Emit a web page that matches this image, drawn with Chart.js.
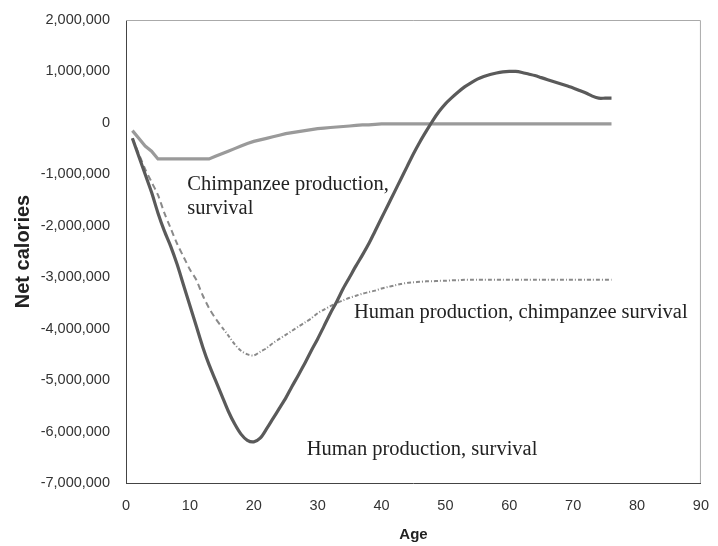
<!DOCTYPE html>
<html>
<head>
<meta charset="utf-8">
<script src="https://cdn.jsdelivr.net/npm/chart.js@4.4.1/dist/chart.umd.min.js"></script>
<style>
  html, body { margin: 0; padding: 0; background: #fff; }
  #wrap { width: 718px; height: 546px; }
</style>
</head>
<body>
<div id="wrap"><canvas id="netChart"></canvas></div>
<script>
// ages 1..76
var ages = [1,2,3,4,5,6,7,8,9,10,11,12,13,14,15,16,17,18,19,20,
  21,22,23,24,25,26,27,28,29,30,31,32,33,34,35,36,37,38,39,40,
  41,42,43,44,45,46,47,48,49,50,51,52,53,54,55,56,57,58,59,60,
  61,62,63,64,65,66,67,68,69,70,71,72,73,74,75,76];

// net calories, millions
var humanSurvival = [-0.3,-0.65,-1.0,-1.35,-1.75,-2.1,-2.4,-2.75,-3.15,-3.55,
  -3.95,-4.35,-4.7,-5.0,-5.3,-5.6,-5.85,-6.05,-6.17,-6.2,
  -6.13,-5.95,-5.75,-5.55,-5.35,-5.12,-4.9,-4.67,-4.43,-4.2,
  -3.95,-3.7,-3.47,-3.22,-3.0,-2.78,-2.57,-2.35,-2.1,-1.85,
  -1.6,-1.35,-1.1,-0.85,-0.6,-0.37,-0.16,0.04,0.22,0.37,
  0.49,0.6,0.7,0.78,0.85,0.9,0.94,0.97,0.99,1.0,
  1.0,0.98,0.95,0.92,0.88,0.84,0.8,0.76,0.72,0.68,
  0.63,0.58,0.52,0.48,0.48,0.48];

var chimpSurvival = [-0.15,-0.3,-0.45,-0.55,-0.7,-0.7,-0.7,-0.7,-0.7,-0.7,
  -0.7,-0.7,-0.7,-0.65,-0.6,-0.55,-0.5,-0.45,-0.4,-0.36,
  -0.33,-0.3,-0.27,-0.24,-0.21,-0.19,-0.17,-0.15,-0.13,-0.11,
  -0.1,-0.09,-0.08,-0.07,-0.06,-0.05,-0.04,-0.04,-0.03,-0.02,
  -0.02,-0.02,-0.02,-0.02,-0.02,-0.02,-0.02,-0.02,-0.02,-0.02,
  -0.02,-0.02,-0.02,-0.02,-0.02,-0.02,-0.02,-0.02,-0.02,-0.02,
  -0.02,-0.02,-0.02,-0.02,-0.02,-0.02,-0.02,-0.02,-0.02,-0.02,
  -0.02,-0.02,-0.02,-0.02,-0.02,-0.02];

var humanProdChimpSurvival = [-0.3,-0.6,-0.9,-1.15,-1.4,-1.75,-2.05,-2.35,-2.6,-2.85,
  -3.05,-3.35,-3.6,-3.8,-3.97,-4.13,-4.3,-4.43,-4.5,-4.52,
  -4.45,-4.38,-4.28,-4.2,-4.12,-4.04,-3.96,-3.88,-3.8,-3.7,
  -3.63,-3.56,-3.5,-3.45,-3.4,-3.36,-3.32,-3.29,-3.26,-3.22,
  -3.19,-3.16,-3.13,-3.11,-3.1,-3.09,-3.08,-3.08,-3.07,-3.07,
  -3.06,-3.06,-3.05,-3.05,-3.05,-3.05,-3.05,-3.05,-3.05,-3.05,
  -3.05,-3.05,-3.05,-3.05,-3.05,-3.05,-3.05,-3.05,-3.05,-3.05,
  -3.05,-3.05,-3.05,-3.05,-3.05,-3.05];

// in-plot labels: text, age, net calories (millions)
var noteTexts = ['Chimpanzee production,', 'survival', 'Human production, chimpanzee survival', 'Human production, survival'];
var noteAges = [9.6, 9.6, 35.7, 28.3];
var noteValues = [-1.2, -1.67, -3.68, -6.36];

function points(vals) {
  return ages.map(function (a, i) { return { x: a, y: vals[i] * 1e6 }; });
}

var frame = {
  id: 'frame',
  afterDraw: function (chart) {
    var a = chart.chartArea, c = chart.ctx;
    c.save();
    c.strokeStyle = '#aaaaaa';
    c.lineWidth = 1;
    c.beginPath();
    c.moveTo(a.left, a.top + 0.5);
    c.lineTo(a.right - 0.5, a.top + 0.5);
    c.lineTo(a.right - 0.5, a.bottom);
    c.stroke();
    c.restore();
  }
};

var notes = {
  id: 'notes',
  afterDatasetsDraw: function (chart) {
    var c = chart.ctx, xs = chart.scales.x, ys = chart.scales.y;
    c.save();
    c.font = '20.5px "Liberation Serif", "Times New Roman", serif';
    c.fillStyle = '#222222';
    c.textBaseline = 'middle';
    c.textAlign = 'left';
    noteTexts.forEach(function (t, i) {
      c.fillText(t, xs.getPixelForValue(noteAges[i]), ys.getPixelForValue(noteValues[i] * 1e6));
    });
    c.restore();
  }
};

var ctx = document.getElementById('netChart').getContext('2d');
var netChart = new Chart(ctx, {
  type: 'line',
  data: {
    datasets: [{
      label: 'Human production, survival',
      data: points(humanSurvival),
      borderColor: '#5a5a5a',
      borderWidth: 3.2,
      pointRadius: 0,
      tension: 0.3
    }, {
      label: 'Chimpanzee production, survival',
      data: points(chimpSurvival),
      borderColor: '#9a9a9a',
      borderWidth: 3.2,
      pointRadius: 0,
      tension: 0
    }, {
      label: 'Human production, chimpanzee survival',
      data: points(humanProdChimpSurvival),
      borderColor: '#8a8a8a',
      borderWidth: 2,
      borderDash: [6, 4],
      pointRadius: 0,
      tension: 0.3,
      segment: {
        borderDash: function (c) { return c.p0.parsed.x < 15 ? [6, 4] : [4, 2, 1, 2]; }
      }
    }]
  },
  options: {
    responsive: true,
    maintainAspectRatio: false,
    animation: false,
    layout: { padding: { top: 20, right: 10, left: 0, bottom: 0 } },
    plugins: {
      legend: { display: false },
      tooltip: { enabled: false }
    },
    scales: {
      x: {
        type: 'linear',
        min: 0,
        max: 90,
        ticks: {
          stepSize: 10,
          color: '#333333',
          padding: 9,
          font: { family: '"Liberation Sans", Arial, sans-serif', size: 14.5 }
        },
        grid: { display: false, drawTicks: true, tickLength: 5, tickColor: '#444444' },
        border: { display: true, color: '#444444', width: 1 },
        title: {
          display: true,
          text: 'Age',
          color: '#222222',
          padding: { top: 0, bottom: 2 },
          font: { family: '"Liberation Sans", Arial, sans-serif', size: 15, weight: 'bold' }
        },
        afterFit: function (s) { s.height = 63; }
      },
      y: {
        min: -7000000,
        max: 2000000,
        ticks: {
          stepSize: 1000000,
          color: '#333333',
          padding: 11,
          font: { family: '"Liberation Sans", Arial, sans-serif', size: 14.5 },
          callback: function (v) { return v.toLocaleString('en-US'); }
        },
        grid: { display: false, drawTicks: true, tickLength: 5, tickColor: '#444444' },
        border: { display: true, color: '#444444', width: 1 },
        title: {
          display: true,
          text: 'Net calories',
          color: '#222222',
          padding: { top: 11, bottom: 0 },
          font: { family: '"Liberation Sans", Arial, sans-serif', size: 20, weight: 'bold' }
        },
        afterFit: function (s) { s.width = 126; }
      }
    }
  },
  plugins: [frame, notes]
});
</script>
</body>
</html>
